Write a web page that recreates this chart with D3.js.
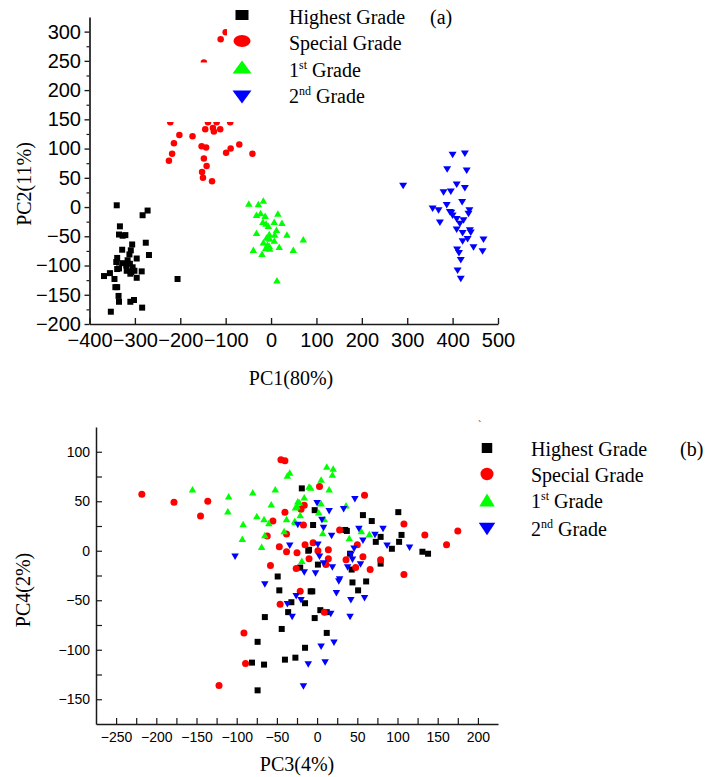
<!DOCTYPE html>
<html>
<head>
<meta charset="utf-8">
<script src="https://cdn.jsdelivr.net/npm/d3@7"></script>
<style>
  body { margin: 0; background: #fff; }
  .tickA text { font-family: "Liberation Sans", Arial, sans-serif; font-size: 20px; fill: #000; }
  .tickB text { font-family: "Liberation Sans", Arial, sans-serif; font-size: 14px; fill: #000; }
  .serif { font-family: "Liberation Serif", "Times New Roman", serif; fill: #000; }
</style>
</head>
<body>
<svg id="chart" width="710" height="777"></svg>
<script>
// ---- Grade names shared by both score plots ----
const gradeNames = ["Highest Grade", "Special Grade", "1st Grade", "2nd Grade"];

// ---- (a) PC1 vs PC2 scores ----
const highestA = [[-340,3],[-283,-14],[-272,-6],[-333,-33],[-335,-47],[-321,-48],[-327,-49],[-276,-61],[-306,-64],[-269,-82],[-328,-73],[-309,-74],[-312,-81],[-339,-87],[-296,-88],[-341,-94],[-316,-91],[-328,-96],[-319,-100],[-311,-97],[-305,-103],[-339,-106],[-335,-105],[-318,-109],[-308,-111],[-301,-109],[-310,-114],[-285,-110],[-355,-113],[-368,-118],[-345,-123],[-296,-121],[-206,-123],[-343,-137],[-339,-137],[-336,-152],[-335,-162],[-310,-162],[-302,-159],[-284,-172],[-353,-179]];
const specialA = [[-100,299],[-111,287],[-148,247],[-222,145],[-90,145],[-139,145],[-120,145],[-145,133],[-128,135],[-112,133],[-126,129],[-202,123],[-173,121],[-214,109],[-153,104],[-143,102],[-70,107],[-89,100],[-99,93],[-41,91],[-218,91],[-225,79],[-148,83],[-142,70],[-152,60],[-150,50],[-130,44]];
const firstA = [[-49,6],[-28,5],[-17,11],[-32,-13],[-23,-10],[-13,-15],[15,-11],[-18,-25],[-11,-28],[7,-25],[24,-27],[-6,-32],[12,-39],[-32,-44],[-4,-46],[8,-47],[35,-47],[-10,-52],[-3,-54],[7,-57],[71,-55],[-8,-64],[-4,-66],[18,-68],[-39,-73],[-20,-80],[-12,-70],[-3,-71],[49,-73],[13,-125],[-17,-60]];
const secondA = [[400,89],[427,91],[388,64],[431,62],[291,36],[409,38],[427,32],[380,25],[396,26],[421,8],[387,3],[356,-3],[369,-6],[394,-9],[400,-15],[437,-6],[435,-12],[409,-21],[372,-27],[424,-23],[416,-29],[409,-39],[422,-45],[438,-40],[433,-55],[422,-59],[468,-56],[446,-69],[466,-76],[410,-73],[414,-79],[418,-91],[411,-109],[418,-123],[397,-10],[440,-44]];

// ---- (b) PC3 vs PC4 scores ----
const highestB = [[-19,63],[-11,0],[-21,-17],[-49,-26],[-3,41],[-5,26],[57,36],[68,30],[101,39],[105,16],[102,9],[35,21],[37,20],[79,14],[73,9],[93,2],[131,-1],[138,-3],[-10,1],[1,-14],[41,-3],[79,-13],[43,-19],[-47,-40],[-32,-52],[-15,-53],[-8,-41],[-36,-62],[-65,-67],[-44,-79],[-74,-92],[-15,-98],[-81,-113],[-66,-115],[-40,-110],[-27,-108],[-74,-141],[44,-32],[61,-31],[51,-40],[-6,-41],[4,-60],[12,-62],[-3,-68],[12,-83]];
const specialB = [[-218,57],[-178,49],[-136,50],[-145,35],[-45,92],[-40,91],[-40,39],[-55,30],[-16,46],[-20,42],[-17,26],[-62,15],[-38,17],[-47,4],[-38,-1],[-25,-2],[-15,6],[-10,-8],[-58,-15],[-26,-18],[3,65],[59,56],[108,27],[28,21],[134,16],[175,20],[161,6],[50,6],[-5,8],[1,0],[14,1],[14,-8],[36,-9],[57,-6],[79,-9],[11,-14],[48,-17],[66,-19],[108,-24],[-21,-41],[-46,-54],[-91,-83],[-89,-114],[-122,-136],[9,-62]];
const firstB = [[-155,62],[-110,55],[-80,59],[-52,62],[-57,47],[-111,40],[-75,35],[-66,32],[-60,28],[-92,27],[-93,12],[-65,16],[-69,4],[-41,20],[-38,32],[-28,30],[-21,36],[-27,44],[-22,49],[-16,54],[-37,76],[-34,79],[-10,65],[-19,-10],[12,85],[20,83],[19,77],[5,72],[-8,64],[15,62],[-24,50],[-25,45],[36,46],[5,48],[2,39],[9,32],[7,18],[40,13],[65,17],[55,20],[-27,29]];
const secondB = [[-102,-6],[-24,26],[-34,5],[-16,-22],[0,48],[47,52],[15,40],[33,42],[6,31],[8,23],[18,15],[52,22],[57,10],[82,22],[72,16],[87,5],[115,3],[1,6],[46,2],[42,-4],[3,-6],[44,-9],[8,-13],[19,-17],[38,-17],[54,-14],[-2,-23],[28,-29],[-65,-34],[-37,-54],[-26,-46],[-20,-50],[-31,-67],[-17,-137],[27,-31],[24,-43],[42,-50],[59,-48],[17,-64],[41,-67],[21,-93],[5,-97],[-11,-115],[10,-113]];

// ---- Tick values ----
const ticksAX = [-400,-300,-200,-100,0,100,200,300,400,500];
const ticksAY = [-200,-150,-100,-50,0,50,100,150,200,250,300];
const ticksBX = [-250,-200,-150,-100,-50,0,50,100,150,200];
const ticksBY = [-150,-100,-50,0,50,100];

// ---- Marker styles per grade ----
const gradeColors = ["#000000", "#ff0000", "#00ff00", "#0000ff"];
const gradeShapes = ["square", "circle", "up", "down"];

function shapePath(shape, w, h) {
  const a = w / 2, b = h / 2;
  switch (shape) {
    case "square": return `M${-a},${-b}H${a}V${b}H${-a}Z`;
    case "circle": return `M${-a},0A${a},${b} 0 1 0 ${a},0A${a},${b} 0 1 0 ${-a},0Z`;
    case "up":     return `M0,${-b}L${a},${b}L${-a},${b}Z`;
    case "down":   return `M${-a},${-b}L${a},${-b}L0,${b}Z`;
  }
}

const svg = d3.select("#chart");

function drawPoints(g, data, gi, x, y, w, h) {
  g.append("g").selectAll("path").data(data).join("path")
    .attr("d", shapePath(gradeShapes[gi], w, h))
    .attr("fill", gradeColors[gi])
    .attr("transform", d => `translate(${x(d[0])},${y(d[1])})`);
}

function styleAxis(g, width) {
  g.select(".domain").attr("stroke", "#1a1a1a").attr("stroke-width", width);
  g.selectAll(".tick line").attr("stroke", "#1a1a1a").attr("stroke-width", width * 0.8);
}

// Legend label; ordinal grades get a raised suffix ("1st", "2nd")
function legendLabel(g, i, x, y, size) {
  const t = g.append("text").attr("class", "serif").attr("x", x).attr("y", y).attr("font-size", size);
  const m = gradeNames[i].match(/^(\d)(st|nd|rd|th)(.*)$/);
  if (m) {
    t.append("tspan").text(m[1]);
    t.append("tspan").attr("font-size", size * 0.6).attr("dy", -size * 0.42).text(m[2]);
    t.append("tspan").attr("dy", size * 0.42).text(m[3]);
  } else {
    t.text(gradeNames[i]);
  }
}

// ================= Panel (a) =================
const xA = d3.scaleLinear().domain([-400, 500]).range([89.5, 498]);
const yA = d3.scaleLinear().domain([-200, 325]).range([324, 17]);
const gA = svg.append("g");

const seriesA = [highestA, specialA, firstA, secondA];
const sizeA = [[6, 6], [6.5, 6.5], [7.5, 6.5], [8, 6.5]];
seriesA.forEach((s, i) => drawPoints(gA, s, i, xA, yA, sizeA[i][0], sizeA[i][1]));

// white legend backdrop over the upper plot region
gA.append("rect").attr("x", 160).attr("y", 62.5).attr("width", 345).attr("height", 59.5).attr("fill", "#fff");
gA.append("rect").attr("x", 227).attr("y", 0).attr("width", 278).attr("height", 63).attr("fill", "#fff");

// axes
const axAX = gA.append("g").attr("class", "tickA").attr("transform", `translate(0,${yA(-200)})`)
  .call(d3.axisBottom(xA).tickValues(ticksAX).tickSize(-6).tickSizeOuter(0).tickPadding(9).tickFormat(d3.format("d")));
styleAxis(axAX, 1.7);
const axAYminor = gA.append("g").attr("transform", `translate(${xA(-400)},0)`)
  .call(d3.axisLeft(yA).tickValues(d3.range(-175, 325, 50)).tickSize(3).tickFormat(""));
axAYminor.select(".domain").remove();
axAYminor.selectAll(".tick line").attr("stroke", "#1a1a1a").attr("stroke-width", 1.2);
const axAY = gA.append("g").attr("class", "tickA").attr("transform", `translate(${xA(-400)},0)`)
  .call(d3.axisLeft(yA).tickValues(ticksAY).tickSize(5).tickSizeOuter(0).tickPadding(3.5).tickFormat(d3.format("d")));
styleAxis(axAY, 1.7);

// axis titles
gA.append("text").attr("class", "serif").attr("x", 291).attr("y", 385)
  .attr("text-anchor", "middle").attr("font-size", 20).text("PC1(80%)");
gA.append("text").attr("class", "serif").attr("transform", "translate(31,184) rotate(-90)")
  .attr("text-anchor", "middle").attr("font-size", 20).text("PC2(11%)");

// legend
const legA = [
  { cy: 15, w: 13, h: 10, ty: 24 },
  { cy: 41, w: 17, h: 12, ty: 50 },
  { cy: 67, w: 19, h: 13, ty: 77 },
  { cy: 97, w: 19, h: 13, ty: 103 }
];
legA.forEach((l, i) => {
  gA.append("path").attr("d", shapePath(gradeShapes[i], l.w, l.h)).attr("fill", gradeColors[i])
    .attr("transform", `translate(242,${l.cy})`);
  legendLabel(gA, i, 289, l.ty, 20);
});
gA.append("text").attr("class", "serif").attr("x", 430).attr("y", 24).attr("font-size", 20).text("(a)");

// ================= Panel (b) =================
const xB = d3.scaleLinear().domain([-275, 225]).range([96, 498]);
const yB = d3.scaleLinear().domain([-175, 125]).range([724, 427]);
const gB = svg.append("g");

const seriesB = [highestB, specialB, firstB, secondB];
const sizeB = [[6, 6], [7, 7], [7.5, 6.5], [7.5, 6.5]];
seriesB.forEach((s, i) => drawPoints(gB, s, i, xB, yB, sizeB[i][0], sizeB[i][1]));

const axBXminor = gB.append("g").attr("transform", `translate(0,${yB(-175)})`)
  .call(d3.axisBottom(xB).tickValues(d3.range(-225, 225, 50)).tickSize(-6).tickFormat(""));
axBXminor.select(".domain").remove();
axBXminor.selectAll(".tick line").attr("stroke", "#1a1a1a").attr("stroke-width", 1.2);
const axBX = gB.append("g").attr("class", "tickB").attr("transform", `translate(0,${yB(-175)})`)
  .call(d3.axisBottom(xB).tickValues(ticksBX).tickSize(-6).tickSizeOuter(0).tickPadding(8).tickFormat(d3.format("d")));
styleAxis(axBX, 1.5);
const axBYminor = gB.append("g").attr("transform", `translate(${xB(-275)},0)`)
  .call(d3.axisLeft(yB).tickValues(d3.range(-125, 125, 50)).tickSize(-6).tickFormat(""));
axBYminor.select(".domain").remove();
axBYminor.selectAll(".tick line").attr("stroke", "#1a1a1a").attr("stroke-width", 1.2);
const axBY = gB.append("g").attr("class", "tickB").attr("transform", `translate(${xB(-275)},0)`)
  .call(d3.axisLeft(yB).tickValues(ticksBY).tickSize(-6).tickSizeOuter(0).tickPadding(6).tickFormat(d3.format("d")));
styleAxis(axBY, 1.5);

gB.append("text").attr("class", "serif").attr("x", 297).attr("y", 771)
  .attr("text-anchor", "middle").attr("font-size", 20).text("PC3(4%)");
gB.append("text").attr("class", "serif").attr("transform", "translate(30,590) rotate(-90)")
  .attr("text-anchor", "middle").attr("font-size", 20).text("PC4(2%)");

const legB = [
  { cy: 448, w: 10.5, h: 10, ty: 456 },
  { cy: 474, w: 13, h: 12.5, ty: 482 },
  { cy: 500, w: 15.5, h: 13, ty: 508 },
  { cy: 529, w: 16.5, h: 12.5, ty: 536 }
];
legB.forEach((l, i) => {
  gB.append("path").attr("d", shapePath(gradeShapes[i], l.w, l.h)).attr("fill", gradeColors[i])
    .attr("transform", `translate(487,${l.cy})`);
  legendLabel(gB, i, 531, l.ty, 20);
});
gB.append("text").attr("class", "serif").attr("x", 680).attr("y", 456).attr("font-size", 20).text("(b)");
gB.append("text").attr("class", "serif").attr("x", 478).attr("y", 428).attr("font-size", 10).attr("fill", "#444").text("`");
</script>
</body>
</html>
